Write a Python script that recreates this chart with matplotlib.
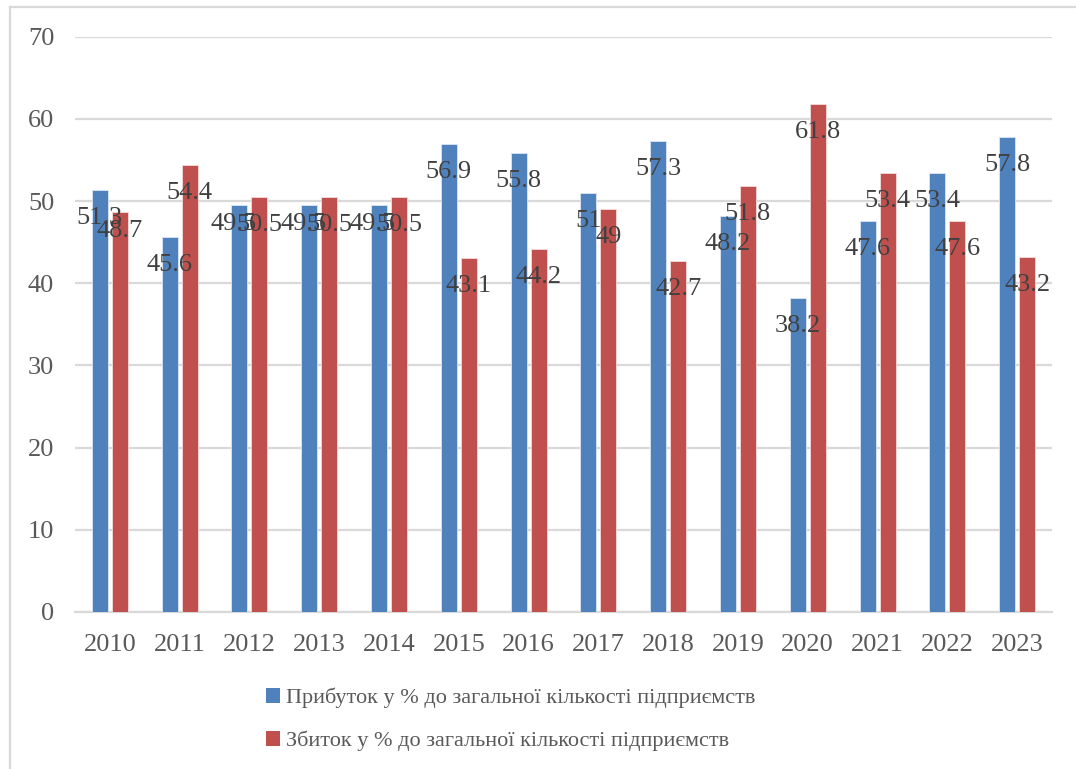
import matplotlib
matplotlib.use("Agg")
import matplotlib.pyplot as plt
import numpy as np
from matplotlib.lines import Line2D
from matplotlib.patches import Patch

plt.rcParams["font.family"] = ["Liberation Serif", "DejaVu Serif"]

years = ["2010", "2011", "2012", "2013", "2014", "2015", "2016",
         "2017", "2018", "2019", "2020", "2021", "2022", "2023"]
profit = [51.3, 45.6, 49.5, 49.5, 49.5, 56.9, 55.8, 51, 57.3, 48.2, 38.2, 47.6, 53.4, 57.8]
loss = [48.7, 54.4, 50.5, 50.5, 50.5, 43.1, 44.2, 49, 42.7, 51.8, 61.8, 53.4, 47.6, 43.2]
series_names = ["Прибуток у % до загальної кількості підприємств",
                "Збиток у % до загальної кількості підприємств"]

BLUE = "#4F81BD"
RED = "#C0504D"
TICK = "#595959"
LABEL = "#404040"
GRID = "#D9D9D9"

W, H = 1076, 769
fig = plt.figure(figsize=(W / 100, H / 100), dpi=100)
ax = fig.add_axes([75 / W, 1 - 612 / H, 977 / W, (612 - 36.7) / H])

x = np.arange(len(years))
bw = 0.229
off = 0.143
b1 = ax.bar(x - off, profit, bw, color=BLUE, edgecolor="#DCE6F2", linewidth=0.6, zorder=3)
b2 = ax.bar(x + off, loss, bw, color=RED, edgecolor="#F2DCDB", linewidth=0.6, zorder=3)

# small manual shifts of a few value labels (pixels)
nudge = {(0, 2): (-6, 9), (0, 3): (-6, 9), (0, 4): (-6, 9), (1, 0): (0, 9)}

for s, (bars, vals) in enumerate(((b1, profit), (b2, loss))):
    for i, (rect, v) in enumerate(zip(bars, vals)):
        dx, dy = nudge.get((s, i), (0, 0))
        ax.annotate(f"{v:g}", (rect.get_x() + rect.get_width() / 2, v),
                    xytext=(dx, -28 + dy), textcoords="offset pixels",
                    ha="center", va="center", fontsize=19, color=LABEL, zorder=4)

ax.set_xlim(-0.5, len(years) - 0.5)
ax.set_ylim(0, 70)
ax.set_yticks(range(0, 71, 10))
ax.set_xticks(x)
ax.set_xticklabels(years)
ax.tick_params(axis="both", length=0, labelsize=19, labelcolor=TICK)
ax.tick_params(axis="y", pad=15)
ax.tick_params(axis="x", pad=15.5)
ax.grid(axis="y", color=GRID, linewidth=1.6, zorder=0)
for sp in ("top", "right", "left"):
    ax.spines[sp].set_visible(False)
ax.spines["bottom"].set_color(GRID)
ax.spines["bottom"].set_linewidth(1.6)

handles = [Patch(facecolor=BLUE), Patch(facecolor=RED)]
fig.legend(handles, series_names, loc="upper left",
           bbox_to_anchor=(257 / W, 1 - 679 / H), frameon=False,
           fontsize=16, labelcolor=TICK, handlelength=0.65, handleheight=0.65,
           handletextpad=0.25, labelspacing=1.0, borderaxespad=0)

# chart area border
fig.add_artist(Line2D([9.5 / W, 9.5 / W], [0, 1 - 7 / H], color=GRID, linewidth=1.6))
fig.add_artist(Line2D([9.5 / W, 1], [1 - 7 / H, 1 - 7 / H], color=GRID, linewidth=1.6))

fig.savefig("out.png", dpi=100, facecolor="white")
